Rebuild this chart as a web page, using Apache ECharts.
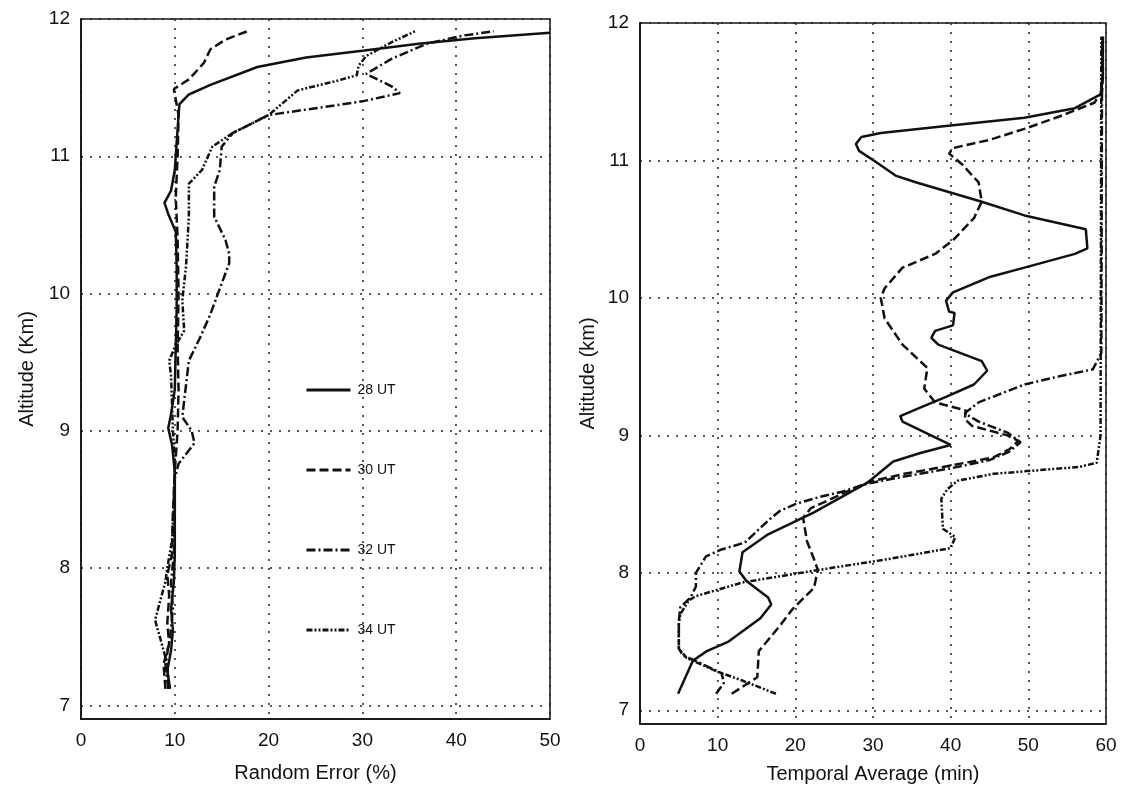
<!DOCTYPE html>
<html>
<head>
<meta charset="utf-8">
<script src="https://cdn.jsdelivr.net/npm/echarts@6/dist/echarts.min.js"></script>
<style>
  html, body { margin: 0; padding: 0; background: #fff; }
  #chart { width: 1123px; height: 800px; }
</style>
</head>
<body>
<div id="chart"></div>
<script>
// series names / legend
const seriesNames = ["28 UT", "30 UT", "32 UT", "34 UT"];

// left panel: [random error %, altitude km]
const left28 = [[9.5,7.12],[9.2,7.25],[9.6,7.4],[9.8,7.55],[9.6,7.7],[9.9,7.9],[10,8.1],[10,8.4],[10,8.7],[9.7,8.9],[9.3,9.02],[9.6,9.12],[10,9.3],[10.1,9.6],[10.2,9.9],[10.2,10.2],[10.1,10.45],[9.3,10.58],[8.9,10.66],[9.6,10.75],[10,10.9],[10.2,11.1],[10.4,11.3],[10.5,11.38],[11.5,11.45],[13.8,11.52],[18.8,11.65],[24,11.72],[30.2,11.77],[36,11.82],[42,11.86],[50,11.9]];
const left30 = [[9.0,7.12],[8.8,7.3],[9.4,7.45],[9.2,7.6],[9.4,7.8],[9.2,7.95],[9.7,8.1],[9.8,8.4],[10,8.7],[10.3,9.0],[10.4,9.3],[10.3,9.6],[10.4,10],[10.3,10.4],[10.1,10.7],[10.3,11.0],[10.4,11.3],[9.9,11.49],[11.5,11.56],[13.1,11.68],[13.8,11.78],[15.4,11.85],[17.7,11.91]];
const left32 = [[9.3,7.12],[9.0,7.3],[9.5,7.5],[9.8,7.7],[9.6,7.9],[9.9,8.1],[10,8.4],[10,8.65],[10.4,8.76],[11.2,8.83],[12.1,8.91],[11.8,9.0],[10.8,9.1],[11,9.22],[11.5,9.51],[12.7,9.68],[13.8,9.85],[14.6,10.0],[15.8,10.22],[15.8,10.29],[15.4,10.39],[14.2,10.56],[14.2,10.78],[14.8,10.9],[15,11.07],[16.2,11.17],[20,11.3],[30,11.4],[34,11.46],[33.1,11.51],[30.4,11.6],[33.1,11.71],[36.9,11.82],[40.8,11.88],[44,11.91]];
const left34 = [[9.4,7.12],[9.2,7.3],[8.6,7.45],[7.9,7.62],[8.4,7.75],[9.0,7.9],[9.2,8.0],[9.7,8.2],[9.9,8.5],[10,8.8],[9.8,9.0],[9.7,9.2],[9.6,9.4],[9.4,9.51],[10,9.61],[11,9.73],[10.8,9.95],[11.2,10.2],[11.5,10.56],[11.5,10.8],[12.9,10.9],[13.8,11.04],[14,11.07],[16.2,11.17],[20,11.3],[23.1,11.48],[27.3,11.55],[29.4,11.59],[29.6,11.66],[30.4,11.73],[33.1,11.83],[35.6,11.91]];

// right panel: [temporal average min, altitude km]
const right28 = [[4.9,7.12],[6.8,7.36],[8.6,7.43],[11.4,7.5],[15.5,7.67],[16.9,7.77],[16.5,7.82],[13.7,7.94],[12.8,8.01],[13.2,8.15],[16.5,8.28],[22.4,8.44],[29.4,8.66],[32.6,8.81],[36,8.87],[40,8.93],[33.8,9.1],[33.5,9.14],[36,9.2],[39.4,9.28],[43,9.37],[44.7,9.47],[44,9.54],[38.4,9.66],[37.5,9.71],[38,9.76],[40.3,9.8],[40.5,9.89],[39.8,9.9],[39.4,9.98],[40.3,10.04],[44.9,10.15],[49.5,10.22],[56,10.32],[57.6,10.36],[57.4,10.5],[49.5,10.6],[44,10.7],[35.6,10.84],[32.9,10.89],[30.1,11.0],[28.2,11.07],[27.8,11.12],[28.5,11.17],[31,11.2],[39.4,11.25],[49.5,11.31],[56,11.38],[59.3,11.48],[59.6,11.6],[59.6,11.9]];
const right30 = [[11.8,7.12],[15.1,7.24],[15.3,7.43],[17.8,7.6],[19.7,7.74],[22.4,7.89],[22.9,8.02],[22.4,8.1],[21.5,8.23],[21,8.4],[22,8.47],[24.7,8.54],[27,8.6],[29.4,8.66],[34,8.72],[40,8.78],[45.5,8.84],[47.6,8.9],[48.7,8.96],[47.3,9.0],[42.7,9.07],[41.8,9.12],[42,9.18],[38,9.24],[36.6,9.34],[37,9.49],[33.8,9.66],[31.5,9.85],[31,10.0],[31.5,10.07],[33.8,10.22],[38,10.32],[40.3,10.42],[43,10.58],[44,10.7],[43.6,10.84],[41.5,10.97],[39.8,11.05],[40.3,11.09],[45,11.15],[49.5,11.23],[54,11.32],[58.5,11.42],[59.5,11.5],[59.6,11.9]];
const right32 = [[9.8,7.12],[10.8,7.2],[10.5,7.27],[7.5,7.35],[5.5,7.4],[5,7.45],[5,7.65],[5.2,7.75],[6.5,7.82],[7.2,7.9],[7.2,8.0],[8.5,8.12],[10.5,8.17],[13.5,8.22],[15,8.3],[16.5,8.38],[18,8.45],[20,8.5],[23,8.55],[26,8.59],[29.4,8.65],[34,8.7],[40,8.76],[45,8.82],[47.5,8.88],[49,8.95],[47.3,9.02],[43.6,9.1],[41.8,9.16],[43.6,9.24],[49.5,9.37],[54,9.43],[58.3,9.48],[59.4,9.6],[59.5,11.9]];
const right34 = [[17.5,7.12],[13,7.22],[10,7.28],[7.2,7.35],[6,7.38],[5,7.45],[5,7.63],[5.2,7.7],[6.3,7.8],[7.2,7.83],[13.2,7.93],[22.9,8.02],[32,8.1],[40,8.18],[40.6,8.26],[39,8.32],[38.8,8.54],[39.6,8.61],[40.9,8.67],[45.5,8.72],[56.5,8.77],[58.8,8.8],[59.3,9.0],[59.4,11.9]];

const FONT = '"Liberation Sans", Arial, sans-serif';
const INK = "#111";
const dashes = ["solid", [9, 4], [9, 3, 2, 3], [6, 2, 2, 2, 2, 2]];

const chart = echarts.init(document.getElementById("chart"), null, { renderer: "canvas" });

function xAxisOf(gridIndex, max, name, gap) {
  return {
    gridIndex, type: "value", min: 0, max, interval: 10,
    name, nameLocation: "middle", nameGap: gap,
    nameTextStyle: { fontFamily: FONT, fontSize: 20, color: INK },
    axisLine: { show: true, lineStyle: { color: INK, width: 1.5 } },
    axisTick: { show: false },
    axisLabel: { fontFamily: FONT, fontSize: 19, color: INK, margin: 12 },
    splitLine: { show: true, lineStyle: { color: "#222", type: [2, 7], width: 1.5 } },
  };
}

function yAxisOf(gridIndex, name, gap) {
  return {
    gridIndex, type: "value", min: 6.9, max: 12, minInterval: 1, maxInterval: 1,
    name, nameLocation: "middle", nameGap: gap,
    nameTextStyle: { fontFamily: FONT, fontSize: 20, color: INK },
    axisLine: { show: true, lineStyle: { color: INK, width: 1.5 } },
    axisTick: { show: false },
    axisLabel: { showMinLabel: false, fontFamily: FONT, fontSize: 19, color: INK, margin: 11 },
    splitLine: { show: true, lineStyle: { color: "#222", type: [2, 7], width: 1.5 } },
  };
}

const leftData = [left28, left30, left32, left34];
const rightData = [right28, right30, right32, right34];

const series = [];
[leftData, rightData].forEach((set, panel) => {
  set.forEach((data, i) => {
    series.push({
      name: seriesNames[i],
      type: "line",
      xAxisIndex: panel, yAxisIndex: panel,
      data,
      symbol: "none",
      smooth: false,
      lineStyle: { color: INK, width: 2.5, type: dashes[i] },
      itemStyle: { color: INK },
    });
  });
});

chart.setOption({
  animation: false,
  backgroundColor: "#fff",
  grid: [
    { left: 81, top: 19, width: 469, height: 700, show: true, borderColor: INK, borderWidth: 1.5 },
    { left: 640, top: 23, width: 466, height: 701, show: true, borderColor: INK, borderWidth: 1.5 },
  ],
  xAxis: [xAxisOf(0, 50, "Random Error (%)", 44), xAxisOf(1, 60, "Temporal Average (min)", 40)],
  yAxis: [yAxisOf(0, "Altitude (Km)", 44), yAxisOf(1, "Altitude (km)", 42)],
  legend: {
    data: seriesNames,
    orient: "vertical",
    left: 300, top: 378,
    itemWidth: 44, itemHeight: 14, itemGap: 66,
    itemStyle: { opacity: 0 },
    lineStyle: { width: 3 },
    textStyle: { fontFamily: FONT, fontSize: 14, color: INK, padding: [0, 0, 0, 2] },
  },
  series,
});
</script>
</body>
</html>
